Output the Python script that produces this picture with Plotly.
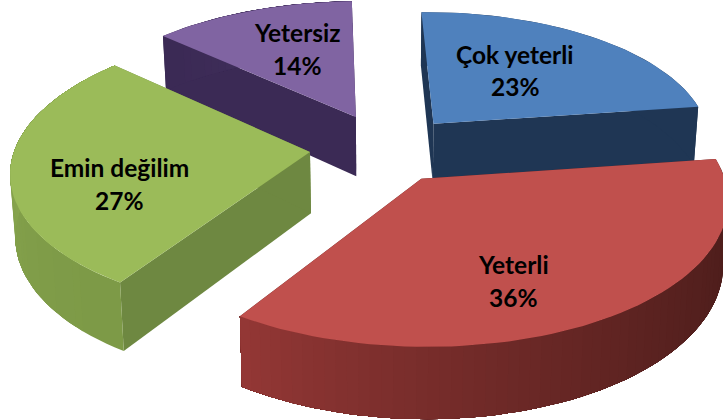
import numpy as np
import plotly.graph_objects as go

categories = ["Çok yeterli", "Yeterli", "Emin değilim", "Yetersiz"]
values = [23, 36, 27, 14]
top_colors = ["#4F81BD", "#C0504D", "#9BBB59", "#8064A2"]
cut_colors = ["#1F3654", "#5A2220", "#6E8841", "#3B2A55"]
wall_start = ["#1F3654", "#4A1C1A", "#7D9A47", "#3B2A55"]
wall_end = ["#1F3654", "#933735", "#95B356", "#4A3768"]
radius_scale = [0.945, 1.0, 1.0, 1.0]
draw_order = [3, 0, 2, 1]
label_xy = [(515, 54, 86), (513, 264, 297), (119, 167, 200), (297, 32, 65)]

START = 2.5
EXPLODE = 0.25
CX, CY = 383.5, 148.0
AX, AY, PERSP = 295.0, 138.0, 0.128
DEPTH = 61.0
BOTTOM_SHRINK = 0.986


def warp(deg):
    """Slight angular distortion of the oblique 3-D view."""
    bump = ((1 + np.cos(np.radians(deg - 50))) / 2) ** 2
    return deg - 0.3 - 4.2 * bump + 1.55 * np.sin(np.radians(2 * (deg - 256)))


def project(X, Y, bottom=False):
    X, Y = np.asarray(X, float), np.asarray(Y, float)
    w = 1 + PERSP * Y
    sx = CX + AX * X / w
    sy = CY - AY * Y / w
    if bottom:
        sx = CX + (sx - CX) * BOTTOM_SHRINK
        sy = sy + DEPTH / w
    return sx, sy


def hex_rgb(c):
    return np.array([int(c[i:i + 2], 16) for i in (1, 3, 5)], float)


def mix(a, b, f):
    r = hex_rgb(a) * (1 - f) + hex_rgb(b) * f
    return "rgb(%d,%d,%d)" % tuple(r.round())


fig = go.Figure()


def poly(xs, ys, color):
    fig.add_trace(go.Scatter(
        x=list(xs), y=list(ys), mode="lines", fill="toself", fillcolor=color,
        line=dict(width=0), hoverinfo="skip", showlegend=False))


total = sum(values)
spans = []
a = START
for v in values:
    spans.append((a, a + 360.0 * v / total))
    a += 360.0 * v / total

for i in draw_order:
    t0, t1 = spans[i]
    mid = np.radians((t0 + t1) / 2)
    ox, oy = EXPLODE * np.sin(mid), EXPLODE * np.cos(mid)
    ts = np.radians(warp(np.linspace(t0, t1, int((t1 - t0) / 2) + 2)))
    X = ox + radius_scale[i] * np.sin(ts)
    Y = oy + radius_scale[i] * np.cos(ts)

    # cut faces
    for end in (0, -1):
        px = np.array([ox, X[end]])
        py = np.array([oy, Y[end]])
        tx, ty = project(px, py)
        bx, by = project(px, py, bottom=True)
        poly(list(tx) + list(bx[::-1]), list(ty) + list(by[::-1]), cut_colors[i])

    # outer wall: the whole remaining arc is painted, then repainted from the
    # next point on, so neighbouring shades overlap and leave no seam
    tx, ty = project(X, Y)
    bx, by = project(X, Y, bottom=True)
    n = len(ts)
    last = None
    for k in range(n - 1):
        c = mix(wall_start[i], wall_end[i], (k / (n - 2)) ** 1.6)
        if c == last:
            continue
        last = c
        poly(list(tx[k:]) + list(bx[k:][::-1]),
             list(ty[k:]) + list(by[k:][::-1]), c)

    # top face
    ax_, ay_ = project([ox], [oy])
    poly([ax_[0]] + list(tx), [ay_[0]] + list(ty), top_colors[i])

for name, v, (lx, y1, y2) in zip(categories, values, label_xy):
    for txt, ly in ((name, y1), (f"{v}%", y2)):
        fig.add_annotation(x=lx, y=ly, text=f"<b>{txt}</b>", showarrow=False,
                           font=dict(family="Lato, Carlito, sans-serif", size=24.5, color="#000000"))

fig.update_layout(
    width=723, height=420, margin=dict(l=0, r=0, t=0, b=0),
    paper_bgcolor="#FFFFFF", plot_bgcolor="#FFFFFF", showlegend=False,
    xaxis=dict(range=[0, 723], visible=False, fixedrange=True),
    yaxis=dict(range=[420, 0], visible=False, fixedrange=True),
)
fig.write_html("out.html", config={"displayModeBar": False},
               post_script="document.body.style.margin='0';")
